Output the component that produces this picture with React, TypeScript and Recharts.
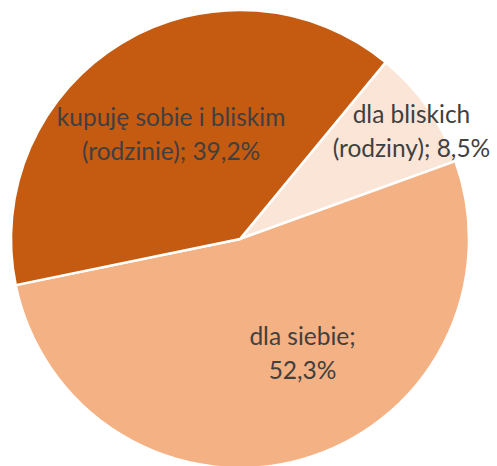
import React from 'react';
import { PieChart, Pie, Cell } from 'recharts';

// slices in drawing order (clockwise, Excel-style start)
const categories = ['dla bliskich (rodziny)', 'dla siebie', 'kupuję sobie i bliskim (rodzinie)'];
const shares = [8.5, 52.3, 39.2];
const colors = ['#FBE5D6', '#F4B183', '#C55A11'];

const data = categories.map((name, i) => ({ name, value: shares[i] }));

// label placement tweaks (radius fraction, angle nudge, wrap width in chars)
const labelLayout: Record<string, { r: number; da: number; wrap: number }> = {
  'dla bliskich (rodziny)': { r: 0.88, da: -3.5, wrap: 16 },
  'dla siebie': { r: 0.577, da: 12.5, wrap: 12 },
  'kupuję sobie i bliskim (rodzinie)': { r: 0.54, da: 2.8, wrap: 22 },
};

const RAD = Math.PI / 180;
const FONT = 'Lato, "Open Sans", sans-serif';

function wrapWords(text: string, max: number): string[] {
  const lines: string[] = [];
  let cur = '';
  for (const w of text.split(' ')) {
    const next = cur ? cur + ' ' + w : w;
    if (next.length > max && cur) {
      lines.push(cur);
      cur = w;
    } else {
      cur = next;
    }
  }
  if (cur) lines.push(cur);
  return lines;
}

const renderLabel = (props: any) => {
  const { cx, cy, midAngle, outerRadius, name, value } = props;
  const lay = labelLayout[name] ?? { r: 0.6, da: 0, wrap: 20 };
  const a = (midAngle + lay.da) * RAD;
  const r = outerRadius * lay.r;
  const x = cx + r * Math.cos(-a);
  const y = cy + r * Math.sin(-a) - 3;
  const text = `${name}; ${String(value).replace('.', ',')}%`;
  const lines = wrapWords(text, lay.wrap);
  const lh = 34;
  const y0 = y - ((lines.length - 1) * lh) / 2;
  return (
    <text
      x={x}
      y={y0}
      fill="#404040"
      fontFamily={FONT}
      fontSize={24.5}
      textAnchor="middle"
      dominantBaseline="central"
    >
      {lines.map((l, i) => (
        <tspan key={i} x={x} y={y0 + i * lh}>
          {l}
        </tspan>
      ))}
    </text>
  );
};

export default function App() {
  return (
    <div style={{ width: 497, height: 466, background: '#fff' }}>
      <style>{`body{margin:0}`}</style>
      <PieChart width={497} height={466} margin={{ top: 0, right: 0, bottom: 0, left: 0 }}>
        <Pie
          data={data}
          dataKey="value"
          nameKey="name"
          cx={240}
          cy={239}
          outerRadius={229}
          startAngle={50.5}
          endAngle={-309.5}
          stroke="#ffffff"
          strokeWidth={2.5}
          label={renderLabel}
          labelLine={false}
          isAnimationActive={false}
        >
          {data.map((_, i) => (
            <Cell key={i} fill={colors[i]} />
          ))}
        </Pie>
      </PieChart>
    </div>
  );
}
